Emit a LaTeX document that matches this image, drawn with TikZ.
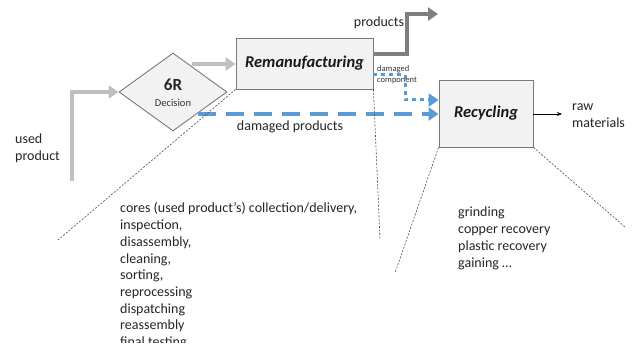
\documentclass[tikz,border=0pt]{standalone}
\usepackage{fontspec}
\setmainfont{Carlito}
\usetikzlibrary{shapes.geometric,arrows.meta}
\definecolor{boxfill}{HTML}{F2F2F2}
\definecolor{boxline}{HTML}{7A7A7A}
\definecolor{flowlight}{HTML}{BFBFBF}
\definecolor{flowdark}{HTML}{7F7F7F}
\definecolor{flowblue}{HTML}{5B9BD5}
\tikzset{
  procbox/.style={draw=boxline, fill=boxfill, line width=0.9pt, inner sep=0pt},
  decide/.style={diamond, draw=boxline, fill=boxfill, line width=0.9pt, inner sep=0pt,
                 minimum width=108pt, minimum height=78pt},
  grayflow/.style={draw=flowlight, line width=4pt,
                   -{Triangle[length=10pt,width=13pt]}},
  darkflow/.style={draw=flowdark, line width=4pt,
                   -{Triangle[length=10pt,width=13pt]}},
  blueflow/.style={draw=flowblue, line width=4pt, dash pattern=on 18pt off 10pt,
                   -{Triangle[length=10pt,width=13pt]}},
  bluedots/.style={draw=flowblue, line width=3pt, dash pattern=on 4pt off 4pt,
                   -{Triangle[length=10pt,width=13pt]}},
  zoomline/.style={draw=black!70, line width=0.6pt, dash pattern=on 2pt off 1.5pt},
  txt/.style={font=\fontsize{14}{16.7}\selectfont, inner sep=0pt, text=black!85},
  listtxt/.style={txt, align=left, anchor=north west},
  boxlabel/.style={font=\fontsize{16.5}{18}\selectfont\bfseries\itshape, text=black!90}
}
\begin{document}
\begin{tikzpicture}[x=1pt,y=-1pt]
\useasboundingbox[fill=white] (0,0) rectangle (633,350);

% process shapes
\node[decide] (dec) at (173,92) {};
\node[font=\fontsize{17}{18}\selectfont\bfseries, text=black!85] (sixr) at (173,85) {6R};
\node[font=\fontsize{10.5}{12}\selectfont, text=black!80] (decl) at (173,103) {Decision};
\node[procbox, minimum width=137pt, minimum height=51pt] (reman) at (304.5,63.5) {};
\node[boxlabel] (remanlbl) at (reman) {Remanufacturing};
\node[procbox, minimum width=94pt, minimum height=67pt] (recy) at (486,113.5) {};
\node[boxlabel] (recylbl) at (recy) {Recycling};

% free ends of the flows
\coordinate (usedstart) at (72,181);
\coordinate (prodend) at (438,14);
\coordinate (rawend) at (562,114);
\coordinate (dmgstart) at (198,114);

% main flows
\draw[grayflow] (usedstart) |- (dec.west);
\draw[grayflow] (192,64) -- (reman.west |- 0,64);
\draw[darkflow] (reman.east |- 0,54) -- (407,54) |- (prodend);
\draw[blueflow] (dmgstart) -- (recy.west |- 0,114);
\draw[bluedots] (reman.east |- 0,75) -- (405,75) |- (recy.west |- 0,100);
\draw[-{Stealth[length=5pt,width=4pt]}, line width=0.6pt] (recy.east |- 0,114) -- (rawend);

% labels
\node[txt, align=left, anchor=west] (usedlbl) at (15,148) {used\\product};
\node[txt, anchor=center] (prodlbl) at (379,23) {products};
\node[txt, anchor=center] (dmglbl) at (290,127) {damaged products};
\node[font=\fontsize{8.5}{11}\selectfont, align=left, anchor=west, inner sep=0pt, text=black!80]
  (dmgcomp) at (377,74.5) {damaged\\component};
\node[txt, align=left, anchor=west] (rawlbl) at (572,115.5) {raw\\materials};

% zoom-out guide lines
\coordinate (rmA) at (58,240);
\coordinate (rmB) at (380,239);
\coordinate (rcA) at (395,273);
\coordinate (rcB) at (625,227);
\draw[zoomline] (reman.south west) -- (rmA);
\draw[zoomline] (reman.south east) -- (rmB);
\draw[zoomline] (recy.south west) -- (rcA);
\draw[zoomline] (recy.south east) -- (rcB);

% activity lists (the long list runs past the bottom of its text frame)
\begin{scope}
  \clip (100,190) rectangle (400,343);
  \node[listtxt] (remanlist) at (120,202.5) {cores (used product’s) collection/delivery,\\
    inspection,\\ disassembly,\\ cleaning,\\ sorting,\\ reprocessing\\ dispatching\\
    reassembly\\ final testing};
\end{scope}
\node[listtxt] (recylist) at (458,207) {grinding\\ copper recovery\\ plastic recovery\\ gaining \dots};
\end{tikzpicture}
\end{document}
